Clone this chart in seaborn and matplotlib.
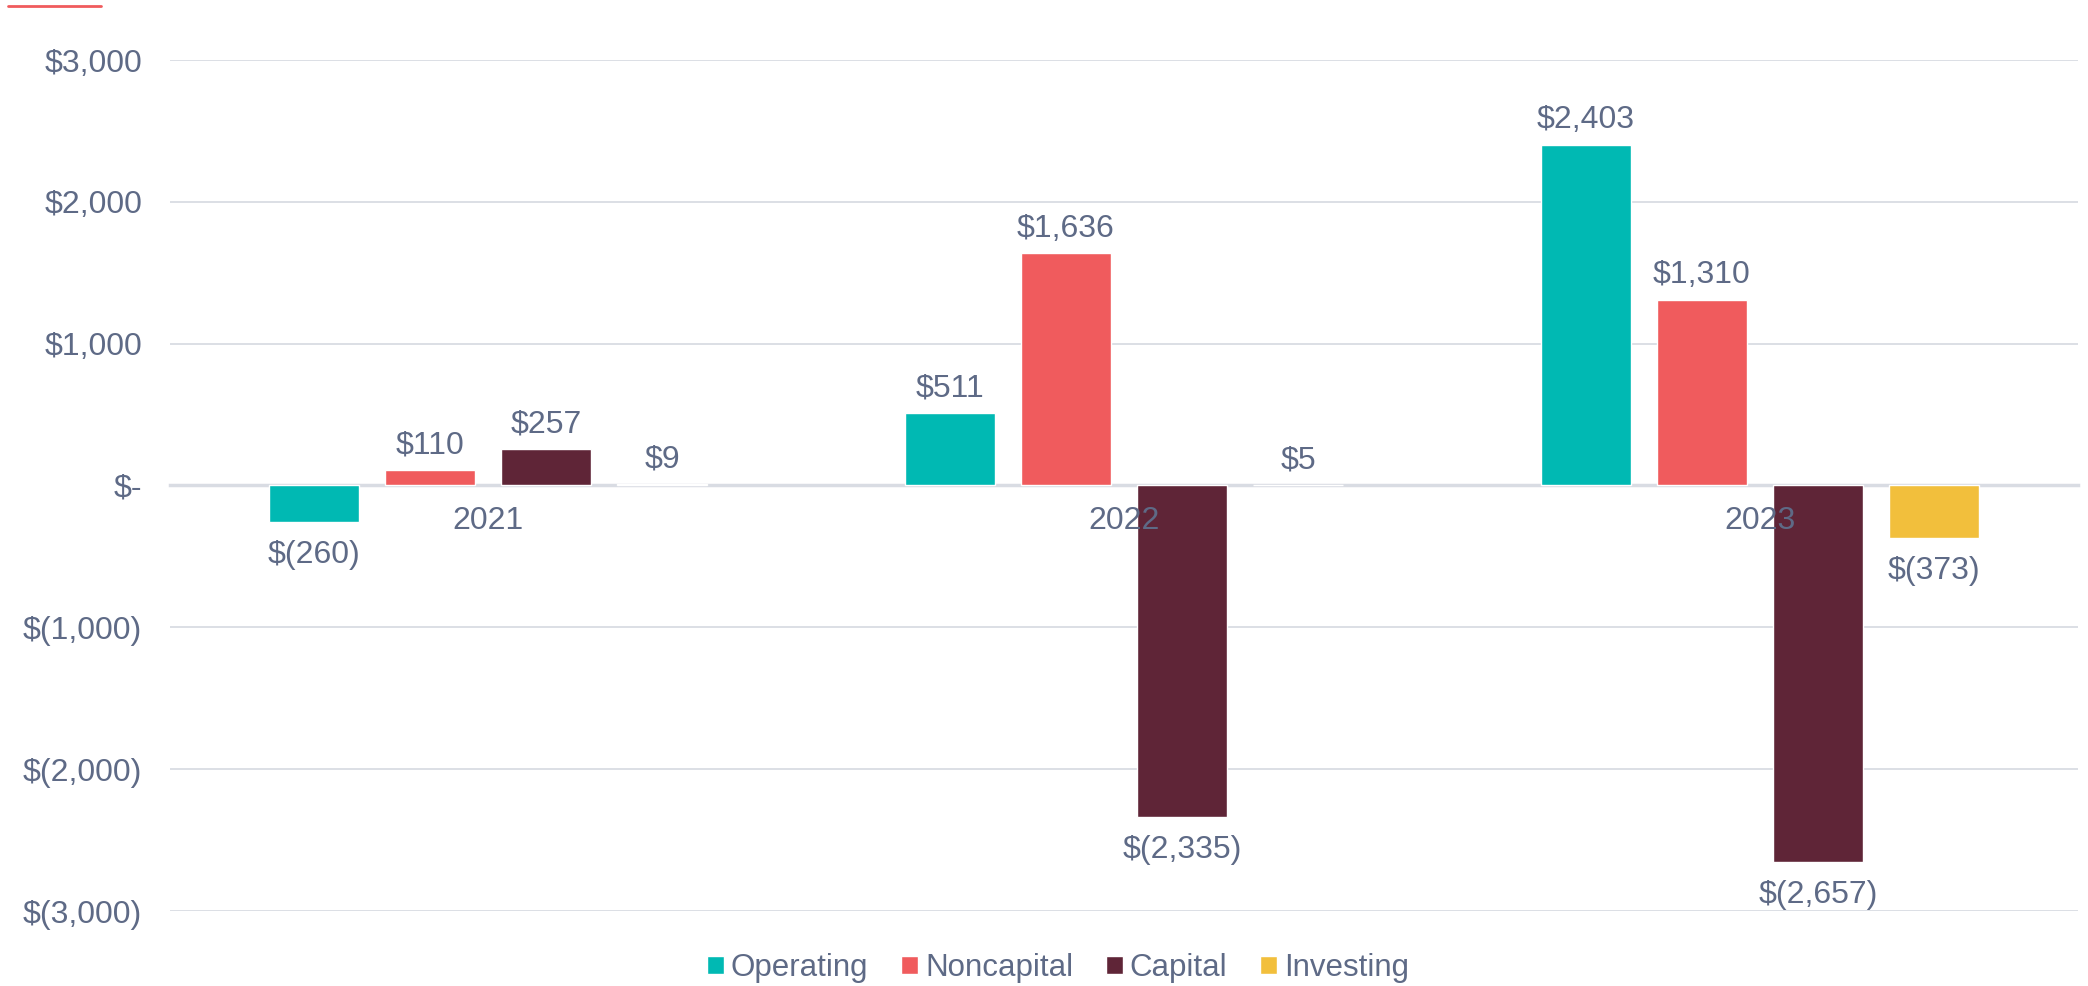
import matplotlib
matplotlib.use('Agg')
from matplotlib import pyplot as plt
from matplotlib.ticker import FuncFormatter
import seaborn as sns
import pandas as pd

years = ['2021', '2022', '2023']
categories = ['Operating', 'Noncapital', 'Capital', 'Investing']
operating = [-260, 511, 2403]
noncapital = [110, 1636, 1310]
capital = [257, -2335, -2657]
investing = [9, 5, -373]

colors = ['#00B9B3', '#F05B5D', '#5F2537', '#F2BF3C']
text_color = '#5E6A86'
grid_color = '#D9DCE3'


def money(v):
    v = int(round(v))
    if v == 0:
        return '$-'
    if v < 0:
        return '$({:,})'.format(-v)
    return '${:,}'.format(v)


# Build long-form table for seaborn
rows = []
for name, vals in zip(categories, [operating, noncapital, capital, investing]):
    for y, v in zip(years, vals):
        rows.append({'Year': y, 'Type': name, 'Value': v})
df = pd.DataFrame(rows)

sns.set_style('white')
plt.rcParams['font.family'] = ['Liberation Sans', 'DejaVu Sans']

fig = plt.figure(figsize=(20.88, 9.86), dpi=100)
ax = fig.add_axes([170 / 2088, 1 - 911 / 986, 1908 / 2088, 851 / 986])

sns.barplot(data=df, x='Year', y='Value', hue='Type', order=years,
            hue_order=categories, palette=colors, width=0.73, gap=0.23,
            saturation=1, errorbar=None, ax=ax)

ax.set_xlim(-0.5, 2.5)
ax.set_ylim(-3000, 3000)
ax.set_yticks([-3000, -2000, -1000, 0, 1000, 2000, 3000])
ax.yaxis.set_major_formatter(FuncFormatter(lambda v, p: money(v)))
ax.grid(axis='y', color=grid_color, linewidth=1.3)
ax.set_axisbelow(True)
for s in ['top', 'right', 'left']:
    ax.spines[s].set_visible(False)
ax.spines['bottom'].set_position(('data', 0))
ax.spines['bottom'].set_color(grid_color)
ax.spines['bottom'].set_linewidth(2.5)
ax.spines['bottom'].set_zorder(0.5)
ax.tick_params(axis='y', length=0, pad=20, labelsize=23, labelcolor=text_color)
ax.tick_params(axis='x', length=0, labelbottom=False)
ax.set_xlabel('')
ax.set_ylabel('')

# Year labels sit on the zero line and are drawn over the bars
for i, yr in enumerate(years):
    ax.annotate(yr, (i, 0), xytext=(0, -15), textcoords='offset points',
                ha='center', va='top', fontsize=23, color=text_color, zorder=6)

# Data labels: above positive bars, below negative ones
for container, vals in zip(ax.containers, [operating, noncapital, capital, investing]):
    for bar, v in zip(container, vals):
        x = bar.get_x() + bar.get_width() / 2
        if v >= 0:
            ax.annotate(money(v), (x, v), xytext=(0, 7), textcoords='offset points',
                        ha='center', va='bottom', fontsize=23, color=text_color)
        else:
            ax.annotate(money(v), (x, v), xytext=(0, -13), textcoords='offset points',
                        ha='center', va='top', fontsize=23, color=text_color)

leg = ax.legend(loc='center', bbox_to_anchor=(1058 / 2088, 1 - 968 / 986),
                bbox_transform=fig.transFigure, ncol=4, frameon=False,
                fontsize=22.5, handlelength=0.545, handleheight=0.545,
                handletextpad=0.22, columnspacing=1.05)
for t in leg.get_texts():
    t.set_color(text_color)

# Accent line at the top-left corner
fig.add_artist(plt.Line2D([8 / 2088, 101 / 2088], [1 - 6 / 986, 1 - 6 / 986],
                          color='#F05B5D', linewidth=2, transform=fig.transFigure))

plt.savefig('out.png', dpi=100)
plt.close()
